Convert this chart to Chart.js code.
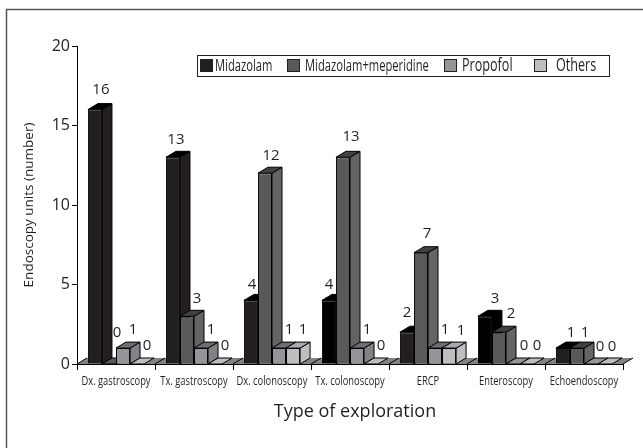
<!doctype html>
<html lang="en">
  <head>
    <script src="https://cdn.jsdelivr.net/npm/chart.js"></script>
    <style>
      body { margin: 0; background: #fff; }
      canvas { display: block; }
    </style>
  </head>
  <body>
    <canvas id="myChart" width="643" height="448"></canvas>
    <script>
      const categories = ['Dx. gastroscopy', 'Tx. gastroscopy', 'Dx. colonoscopy', 'Tx. colonoscopy', 'ERCP', 'Enteroscopy', 'Echoendoscopy'];
      const seriesNames = ['Midazolam', 'Midazolam+meperidine', 'Propofol', 'Others'];
      const midazolam = [16, 13, 4, 4, 2, 3, 1];
      const midazolamMeperidine = [0, 3, 12, 13, 7, 2, 1];
      const propofol = [1, 1, 1, 1, 1, 0, 0];
      const others = [0, 0, 1, 0, 1, 0, 0];
      const yTicks = [0, 5, 10, 15, 20];

      const ink = '#231f20';
      const depthX = 10;
      const depthY = 6;
      // front, side, top of each series
      const faces = [
        ['#231f20', '#231f20', '#000000'],
        ['#58595b', '#636466', '#414042'],
        ['#939598', '#808285', '#6d6e71'],
        ['#bcbec0', '#bcbec0', '#a7a9ac']
      ];
      const floorColor = '#808285';

      // the label of a value sits up and right of its bar, some were moved by hand
      const labelDefault = [10, -18];
      const labelNudge = {
        '0,0': [6, -20], '0,1': [3, -18], '0,2': [1, -16], '0,3': [0, -16], '0,4': [0, -19], '0,6': [8, -15],
        '1,0': [8, -31], '1,2': [6, -17], '1,3': [8, -21], '1,4': [6, -19], '1,5': [12, -18], '1,6': [8, -15],
        '2,5': [11, -18], '2,6': [9, -17],
        '3,4': [12, -17], '3,6': [7, -17]
      };

      function parallelogram(ctx, x, y, w, fill) {
        ctx.fillStyle = fill;
        ctx.beginPath();
        ctx.moveTo(x, y);
        ctx.lineTo(x + depthX, y - depthY);
        ctx.lineTo(x + w + depthX, y - depthY);
        ctx.lineTo(x + w, y);
        ctx.closePath();
        ctx.fill();
        ctx.stroke();
      }

      const bars3d = {
        id: 'bars3d',
        beforeDatasetsDraw(chart) {
          const ctx = chart.ctx;
          const area = chart.chartArea;
          const xScale = chart.scales.x;
          ctx.save();
          ctx.strokeStyle = '#000';
          ctx.lineWidth = 1;

          // floor
          ctx.fillStyle = floorColor;
          ctx.beginPath();
          ctx.moveTo(area.left, area.bottom);
          ctx.lineTo(area.left + depthX, area.bottom - depthY);
          ctx.lineTo(area.right + depthX, area.bottom - depthY);
          ctx.lineTo(area.right, area.bottom);
          ctx.closePath();
          ctx.fill();
          const step = (area.right - area.left) / categories.length;
          for (let i = 0; i <= categories.length; i++) {
            const x = xScale.left + step * i;
            ctx.beginPath();
            ctx.moveTo(x, area.bottom);
            ctx.lineTo(x + depthX, area.bottom - depthY);
            ctx.stroke();
          }

          // left to right, each bar covers the side of the one before it
          chart.data.datasets.forEach((ds, d) => {
            chart.getDatasetMeta(d).data.forEach((bar, c) => {
              const w = bar.width;
              const left = bar.x - w / 2;
              if (ds.data[c] === 0) {
                parallelogram(ctx, left, area.bottom, w, faces[d][0]);
                return;
              }
              bar.draw(ctx);
              const black = ds.backgroundColor[c] === '#000000';
              const right = left + w;
              ctx.fillStyle = black ? '#000000' : faces[d][1];
              ctx.beginPath();
              ctx.moveTo(right, bar.y);
              ctx.lineTo(right + depthX, bar.y - depthY);
              ctx.lineTo(right + depthX, area.bottom - depthY);
              ctx.lineTo(right, area.bottom);
              ctx.closePath();
              ctx.fill();
              ctx.stroke();
              parallelogram(ctx, left, bar.y, w, faces[d][2]);
            });
          });

          // value labels
          ctx.fillStyle = ink;
          ctx.font = '15px "Open Sans"';
          ctx.textAlign = 'center';
          ctx.textBaseline = 'middle';
          chart.data.datasets.forEach((ds, d) => {
            chart.getDatasetMeta(d).data.forEach((bar, c) => {
              const nudge = labelNudge[d + ',' + c] || labelDefault;
              ctx.fillText(String(ds.data[c]), bar.x + nudge[0], bar.y + nudge[1]);
            });
          });

          // category names are condensed in the original
          ctx.font = '13px "Open Sans"';
          categories.forEach((name, i) => {
            ctx.save();
            ctx.translate(xScale.getPixelForTick(i), 381);
            ctx.scale(0.72, 1);
            ctx.fillText(name, 0, 0);
            ctx.restore();
          });

          // axis title sits a little right of the axis centre
          ctx.font = '18px "Open Sans"';
          ctx.fillText('Type of exploration', 355, 412);
          ctx.restore();
          return false;
        }
      };

      const boxedLegend = {
        id: 'boxedLegend',
        afterDraw(chart) {
          const ctx = chart.ctx;
          ctx.save();
          ctx.strokeStyle = ink;
          ctx.lineWidth = 1;
          ctx.strokeRect(197.5, 55.5, 412, 21);
          const slots = [[200, 215], [287, 305], [444, 462], [534, 556]];
          const sizes = [[16, 0.7], [16, 0.7], [18, 0.7], [18, 0.7]];
          ctx.textBaseline = 'middle';
          ctx.textAlign = 'left';
          seriesNames.forEach((name, i) => {
            ctx.fillStyle = faces[i][0];
            ctx.fillRect(slots[i][0] + 0.5, 59.5, 12, 12);
            ctx.strokeRect(slots[i][0] + 0.5, 59.5, 12, 12);
            ctx.save();
            ctx.translate(slots[i][1], 66);
            ctx.scale(sizes[i][1], 1);
            ctx.fillStyle = ink;
            ctx.font = sizes[i][0] + 'px "Open Sans"';
            ctx.fillText(name, 0, 0);
            ctx.restore();
          });
          ctx.restore();
        }
      };

      const frame = {
        id: 'frame',
        beforeDraw(chart) {
          const ctx = chart.ctx;
          ctx.save();
          ctx.strokeStyle = '#555';
          ctx.lineWidth = 1.5;
          ctx.beginPath();
          ctx.moveTo(6.5, 448);
          ctx.lineTo(6.5, 9.5);
          ctx.lineTo(643, 9.5);
          ctx.stroke();
          ctx.restore();
        }
      };

      const pointColors = (values, color) => values.map(() => color);
      const firstColors = pointColors(midazolam, faces[0][0]);
      firstColors[3] = '#000000';
      firstColors[5] = '#000000';

      const canvas = document.getElementById('myChart');
      const chart = new Chart(canvas, {
        type: 'bar',
        data: {
          labels: categories,
          datasets: [
            { label: seriesNames[0], data: midazolam, backgroundColor: firstColors },
            { label: seriesNames[1], data: midazolamMeperidine, backgroundColor: pointColors(midazolam, faces[1][0]) },
            { label: seriesNames[2], data: propofol, backgroundColor: pointColors(midazolam, faces[2][0]) },
            { label: seriesNames[3], data: others, backgroundColor: pointColors(midazolam, faces[3][0]) }
          ]
        },
        plugins: [frame, bars3d, boxedLegend],
        options: {
          responsive: false,
          animation: false,
          layout: { padding: { left: 0, right: 20, top: 46, bottom: 0 } },
          datasets: {
            bar: { categoryPercentage: 0.72, barPercentage: 1, borderColor: '#000', borderWidth: 1 }
          },
          plugins: {
            legend: { display: false },
            title: { display: false },
            tooltip: { enabled: false }
          },
          scales: {
            x: {
              afterFit(scale) { scale.height = 84; },
              border: { color: '#000', width: 1 },
              grid: { offset: true, drawOnChartArea: false, tickLength: 6, color: '#000' },
              ticks: { display: false }
            },
            y: {
              min: 0,
              max: 20,
              afterFit(scale) { scale.width = 77; },
              afterBuildTicks(scale) { scale.ticks = yTicks.map(v => ({ value: v })); },
              border: { color: '#000', width: 1 },
              grid: { drawOnChartArea: false, tickLength: 5, color: '#000' },
              ticks: { color: ink, padding: 2, font: { family: '"Open Sans"', size: 16 } },
              title: { display: true, text: 'Endoscopy units (number)', color: ink, padding: { top: 21, bottom: 0 }, font: { family: '"Open Sans"', size: 13.5 } }
            }
          }
        }
      });
    </script>
  </body>
</html>
